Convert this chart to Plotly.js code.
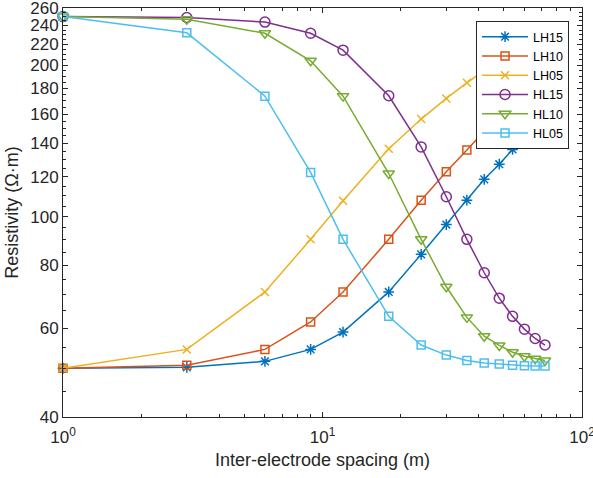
<!DOCTYPE html>
<html>
<head>
<meta charset="utf-8">
<script src="https://cdn.plot.ly/plotly-3.0.1.min.js"></script>
<style>html,body{margin:0;padding:0;background:#fff;}#chart{width:593px;height:478px;}</style>
</head>
<body>
<div id="chart"></div>
<script>
// Inter-electrode spacing (m)
var spacing = [1, 3, 6, 9, 12, 18, 24, 30, 36, 42, 48, 54, 60, 66, 72];

// Resistivity (Ohm·m) per configuration
var LH15 = [50.0, 50.2, 51.6, 54.5, 59.0, 70.9, 84.2, 96.5, 107.9, 118.7, 127.2, 136.1, 142.9, 149.0, 155.0];
var LH10 = [50.0, 50.7, 54.5, 61.8, 70.9, 90.2, 107.9, 122.9, 135.7, 147.9, 158.0, 167.0, 175.0, 182.0, 188.0];
var LH05 = [50.0, 54.5, 70.9, 90.2, 107.6, 136.5, 156.4, 171.9, 184.6, 195.6, 205.0, 213.0, 220.0, 226.0, 232.0];
var HL15 = [250.0, 249.0, 243.8, 231.6, 214.4, 174.0, 137.7, 109.6, 90.2, 77.4, 68.9, 63.4, 59.8, 57.3, 55.6];
var HL10 = [250.0, 247.0, 231.6, 204.2, 173.7, 121.9, 90.2, 72.6, 63.1, 57.9, 55.5, 53.8, 52.8, 52.2, 51.8];
var HL05 = [250.0, 232.1, 173.7, 122.5, 90.2, 63.4, 55.6, 53.1, 51.8, 51.2, 51.0, 50.7, 50.6, 50.5, 50.5];

var seriesNames = ['LH15', 'LH10', 'LH05', 'HL15', 'HL10', 'HL05'];
var seriesData = [LH15, LH10, LH05, HL15, HL10, HL05];
var colors = ['#0072BD', '#D95319', '#EDB120', '#7E2F8E', '#77AC30', '#4DBEEE'];
var symbols = ['asterisk-open', 'square-open', 'x-thin-open', 'circle-open', 'triangle-down-open', 'square-open'];
var sizes = [9, 8, 8, 10, 10, 8];

// Axis ticks
var xTickVals = [1, 10, 100];
var xTickText = ['10<sup>0</sup>', '10<sup>1</sup>', '10<sup>2</sup>'];
var yTickVals = [40, 60, 80, 100, 120, 140, 160, 180, 200, 220, 240, 260];
var xMinor = [2, 3, 4, 5, 6, 7, 8, 9, 20, 30, 40, 50, 60, 70, 80, 90];
var yMinor = [];
for (var v = 45; v < 260; v += 5) { if (yTickVals.indexOf(v) < 0) yMinor.push(v); }

var traces = seriesNames.map(function (n, i) {
  return {
    x: spacing,
    y: seriesData[i],
    name: n,
    type: 'scatter',
    mode: 'lines+markers',
    cliponaxis: false,
    line: {color: colors[i], width: 1.5},
    marker: {symbol: symbols[i], size: sizes[i], color: colors[i], line: {color: colors[i], width: 1.5}}
  };
});

var axisColor = '#262626';
var fontFam = 'Liberation Sans, Arial, Helvetica, sans-serif';
var eps = 1e-5;

var layout = {
  width: 593,
  height: 478,
  margin: {l: 63, r: 11, t: 8, b: 61},
  paper_bgcolor: '#ffffff',
  plot_bgcolor: '#ffffff',
  font: {family: fontFam, size: 17, color: axisColor},
  showlegend: true,
  legend: {
    x: 0.975, y: 0.968, xanchor: 'right', yanchor: 'top',
    bgcolor: '#ffffff', bordercolor: axisColor, borderwidth: 1,
    font: {family: fontFam, size: 12.5, color: '#000000'},
    itemwidth: 46,
    tracegroupgap: 0
  },
  xaxis: {
    type: 'log',
    range: [0 - eps, 2 + eps],
    tickmode: 'array',
    tickvals: xTickVals,
    ticktext: xTickText,
    ticks: 'inside',
    ticklen: 5,
    tickcolor: axisColor,
    ticklabelstandoff: 5,
    ticklabeloverflow: 'allow',
    showline: true,
    linecolor: axisColor,
    linewidth: 1,
    mirror: 'ticks',
    showgrid: false,
    zeroline: false,
    tickfont: {family: fontFam, size: 17, color: axisColor},
    minor: {tickmode: 'array', tickvals: xMinor, ticks: 'inside', ticklen: 3, tickcolor: axisColor, showgrid: false},
    title: {text: 'Inter-electrode spacing (m)', font: {family: fontFam, size: 18, color: axisColor}, standoff: 6}
  },
  yaxis: {
    type: 'log',
    range: [Math.log10(40) - eps, Math.log10(260) + eps],
    tickmode: 'array',
    tickvals: yTickVals,
    ticktext: yTickVals.map(String),
    ticks: 'inside',
    ticklen: 5,
    tickcolor: axisColor,
    ticklabeloverflow: 'allow',
    showline: true,
    linecolor: axisColor,
    linewidth: 1,
    mirror: 'ticks',
    showgrid: false,
    zeroline: false,
    tickfont: {family: fontFam, size: 17, color: axisColor},
    minor: {tickmode: 'array', tickvals: yMinor, ticks: 'inside', ticklen: 3, tickcolor: axisColor, showgrid: false},
    title: {text: 'Resistivity (Ω·m)', font: {family: fontFam, size: 18, color: axisColor}, standoff: 6}
  }
};

Plotly.newPlot('chart', traces, layout, {displayModeBar: false, staticPlot: true});
</script>
</body>
</html>
